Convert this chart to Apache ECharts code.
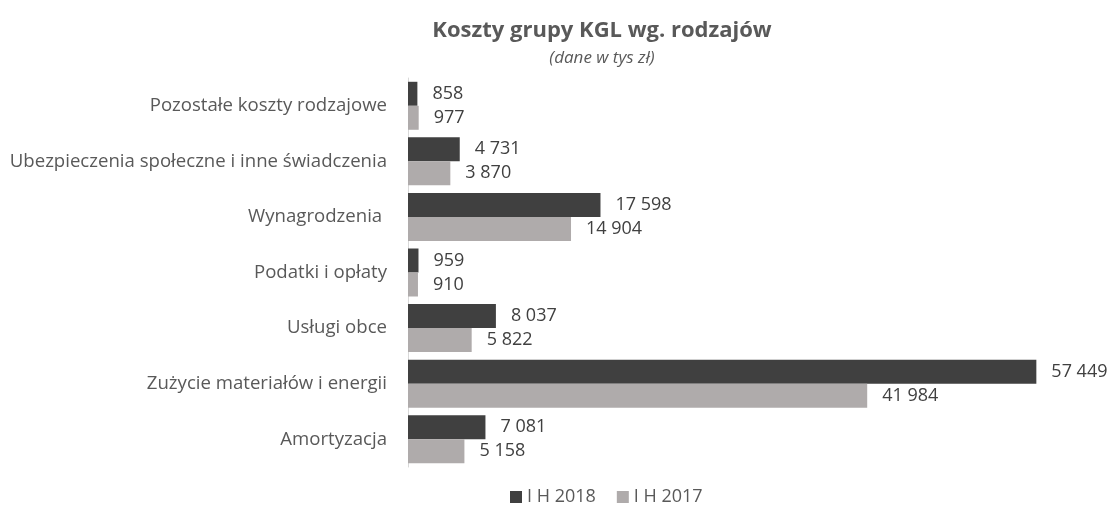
<!DOCTYPE html>
<html>
<head>
<meta charset="utf-8">
<script src="https://cdn.jsdelivr.net/npm/echarts@6/dist/echarts.min.js"></script>
<style>
  html, body { margin: 0; padding: 0; background: #fff; }
  #chart { width: 1111px; height: 513px; }
</style>
</head>
<body>
<div id="chart"></div>
<script>
// kategorie od dołu do góry (oś y w ECharts rośnie w górę)
const categories = [
  'Amortyzacja',
  'Zużycie materiałów i energii',
  'Usługi obce',
  'Podatki i opłaty',
  'Wynagrodzenia ',
  'Ubezpieczenia społeczne i inne świadczenia',
  'Pozostałe koszty rodzajowe'
];
const seriesNames = ['I H 2018', 'I H 2017'];
const values2018 = [7081, 57449, 8037, 959, 17598, 4731, 858];
const values2017 = [5158, 41984, 5822, 910, 14904, 3870, 977];

const FONT = '"Open Sans", "Noto Sans", sans-serif';

// format liczby ze spacją jako separatorem tysięcy
function fmt(v) {
  return String(v).replace(/\B(?=(\d{3})+(?!\d))/g, ' ');
}

const chart = echarts.init(document.getElementById('chart'), null, { renderer: 'canvas' });

const labelStyle = {
  show: true,
  position: 'right',
  distance: 15,
  color: '#404040',
  fontFamily: FONT,
  fontSize: 18,
  formatter: p => fmt(p.value)
};

chart.setOption({
  animation: false,
  title: {
    text: 'Koszty grupy KGL wg. rodzajów',
    subtext: '(dane w tys zł)',
    left: 597,
    textAlign: 'center',
    top: 15,
    itemGap: 8,
    textStyle: {
      color: '#595959',
      fontFamily: FONT,
      fontSize: 22,
      fontWeight: 'bold'
    },
    subtextStyle: {
      color: '#595959',
      fontFamily: FONT,
      fontSize: 17,
      fontStyle: 'italic'
    }
  },
  legend: {
    data: seriesNames,
    bottom: 2,
    left: 505,
    itemWidth: 12,
    itemHeight: 12,
    itemGap: 21,
    icon: 'rect',
    textStyle: { color: '#595959', fontFamily: FONT, fontSize: 18 }
  },
  grid: {
    left: 408,
    right: 3,
    top: 78,
    bottom: 46,
    containLabel: false
  },
  xAxis: {
    type: 'value',
    min: 0,
    max: 64000,
    show: false
  },
  yAxis: {
    type: 'category',
    data: categories,
    axisLine: { show: true, lineStyle: { color: '#d9d9d9', width: 1 } },
    axisTick: { show: false },
    axisLabel: {
      color: '#595959',
      fontFamily: FONT,
      fontSize: 18.6,
      margin: 21
    }
  },
  series: [
    {
      name: seriesNames[0],
      type: 'bar',
      data: values2018,
      barWidth: 24,
      barGap: '0%',
      itemStyle: { color: '#404040' },
      label: labelStyle
    },
    {
      name: seriesNames[1],
      type: 'bar',
      data: values2017,
      barWidth: 24,
      barGap: '0%',
      itemStyle: { color: '#afabab' },
      label: labelStyle
    }
  ]
});
</script>
</body>
</html>
